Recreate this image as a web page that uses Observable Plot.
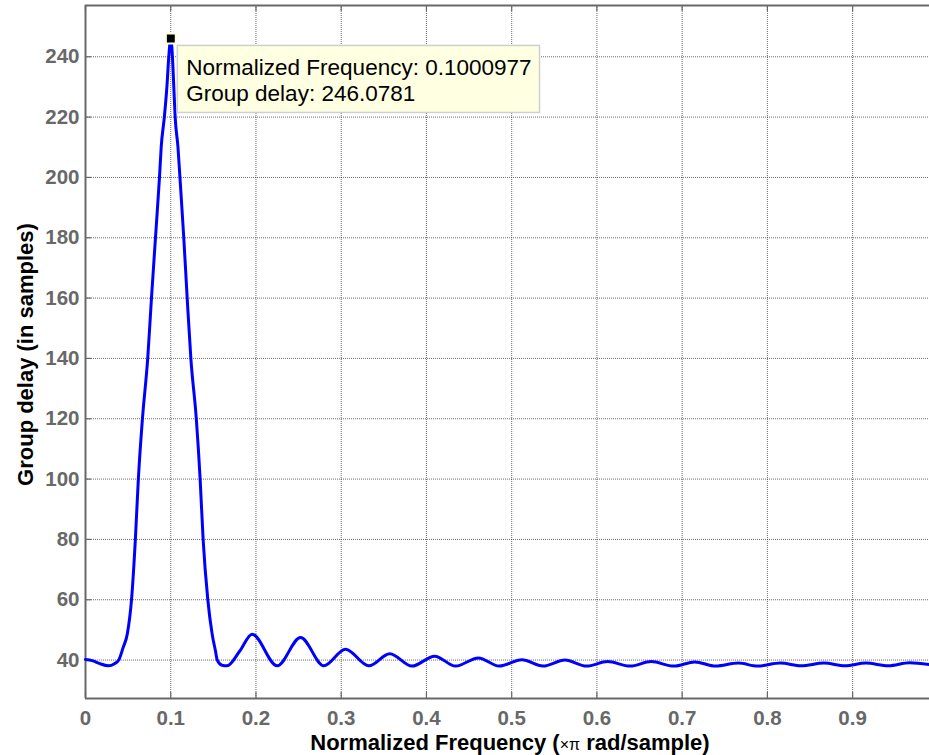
<!DOCTYPE html>
<html>
<head>
<meta charset="utf-8">
<script src="https://cdn.jsdelivr.net/npm/d3@7"></script>
<script src="https://cdn.jsdelivr.net/npm/@observablehq/plot@0.6"></script>
<style>
  html, body { margin: 0; padding: 0; background: #fff; }
  #chart svg { display: block; }
</style>
</head>
<body>
<div id="chart"></div>
<script>
// Normalized frequency (×π rad/sample)
const freq = [
  0.000, 0.008, 0.016, 0.027, 0.034, 0.039, 0.0442, 0.049, 0.054, 0.0585,
  0.0620, 0.0668, 0.0730, 0.0774, 0.0821, 0.0868, 0.0888, 0.0925, 0.0955, 0.0977,
  0.1001, 0.1020, 0.1036, 0.1052, 0.1085, 0.1108, 0.1153, 0.1193, 0.1236, 0.1300,
  0.1345, 0.1380, 0.1435, 0.1486, 0.1525, 0.1546, 0.1600, 0.1660, 0.1810, 0.1955,
  0.2249, 0.2523, 0.2796, 0.3050, 0.3324, 0.3570, 0.3830, 0.4096, 0.4342, 0.4609,
  0.4854, 0.5120, 0.5367, 0.5625, 0.5878, 0.6125, 0.6390, 0.6636, 0.6903, 0.7148,
  0.7394, 0.7660, 0.7886, 0.8152, 0.8397, 0.8664, 0.8910, 0.9155, 0.9421, 0.9668,
  0.9900
];
// Group delay (in samples)
const delay = [
  40.2, 39.8, 38.9, 38.1, 38.8, 40.0, 44.2, 48.6, 60, 80,
  100, 120, 140, 160, 180, 200, 210, 220, 230, 240,
  246.08, 240, 230, 220, 210, 200, 180, 160, 140, 120,
  100, 80, 60, 48.6, 43, 40, 38.3, 38.1, 43, 48.6,
  38.1, 47.5, 38.1, 43.6, 38.1, 42.1, 38.0, 41.3, 38.0, 40.7,
  38.0, 40.1, 38.0, 40.0, 38.0, 39.5, 38.0, 39.5, 38.0, 39.4,
  38.0, 39.0, 38.0, 39.0, 38.1, 39.0, 38.1, 39.0, 38.1, 39.1,
  38.5
];
const xTicks = [0, 0.1, 0.2, 0.3, 0.4, 0.5, 0.6, 0.7, 0.8, 0.9];
const yTicks = [40, 60, 80, 100, 120, 140, 160, 180, 200, 220, 240];
const xDomain = [0, 0.9902];
const yDomain = [27.26, 257];
const xLabel = "Normalized Frequency (";
const xLabelSym = "×π";
const xLabelEnd = " rad/sample)";
const yLabel = "Group delay (in samples)";
const tipFreq = [0.1000977];
const tipDelay = [246.0781];
const tipLines = ["Normalized Frequency: 0.1000977", "Group delay: 246.0781"];

const data = freq.map((f, i) => ({f, d: delay[i]}));
const tipData = tipFreq.map((f, i) => ({f, d: tipDelay[i]}));

const W = 929, H = 755, mL = 85, mR = 0, mT = 5, mB = 57;
const innerH = H - mT - mB;
const axisGray = "#686868";
const font = "'Liberation Sans', Arial, Helvetica, sans-serif";
const gridStyle = {stroke: "#3a3a3a", strokeOpacity: 0.75, strokeWidth: 1, strokeDasharray: "1,1"};

const chart = Plot.plot({
  width: W, height: H,
  marginLeft: mL, marginRight: mR, marginTop: mT, marginBottom: mB,
  x: {domain: xDomain},
  y: {domain: yDomain},
  style: {fontFamily: font, background: "#fff", overflow: "visible"},
  marks: [
    Plot.gridX(xTicks, gridStyle),
    Plot.gridY(yTicks, gridStyle),
    // inward tick marks
    Plot.tickX(xTicks, {x: d => d, stroke: axisGray, strokeWidth: 1.2, insetTop: innerH - 6}),
    Plot.tickX(xTicks, {x: d => d, stroke: axisGray, strokeWidth: 1.2, insetBottom: innerH - 6}),
    Plot.tickY(yTicks, {y: d => d, stroke: axisGray, strokeWidth: 1.2, insetRight: (W - mL - mR) - 6}),
    // axes box
    Plot.ruleX([xDomain[0]], {stroke: axisGray, strokeWidth: 2}),
    Plot.ruleY([yDomain[0]], {stroke: axisGray, strokeWidth: 2}),
    Plot.ruleY([yDomain[1]], {stroke: axisGray, strokeWidth: 2}),
    Plot.axisX(xTicks, {tickSize: 0, tickPadding: 12, fontSize: 20.5, fontWeight: "bold", color: axisGray, label: null, tickFormat: d => String(d)}),
    Plot.axisY(yTicks, {tickSize: 0, tickPadding: 6, fontSize: 20.5, fontWeight: "bold", color: axisGray, label: null}),
    Plot.line(data, {x: "f", y: "d", stroke: "#0000ff", strokeWidth: 3, curve: "monotone-x"}),
    Plot.dot(tipData, {x: "f", y: "d", symbol: "square", r: 5.6, fill: "#000", stroke: "#ffffe1", strokeWidth: 2})
  ]
});

document.getElementById("chart").appendChild(chart);

const svg = d3.select(chart);
const sx = chart.scale("x"), sy = chart.scale("y");
const px = sx.apply(tipFreq[0]), py = sy.apply(tipDelay[0]);

// Data tip box
const tipG = svg.append("g");
const rect = tipG.append("rect");
const tipText = tipG.append("g")
  .attr("font-family", font)
  .attr("font-size", 22.5)
  .attr("text-anchor", "start")
  .attr("fill", "#000");
tipLines.forEach((t, i) => {
  tipText.append("text").attr("x", px + 16).attr("y", py + 37 + i * 26).attr("text-anchor", "start").text(t);
});
const bb = tipText.node().getBBox();
rect.attr("x", px + 7).attr("y", py + 7.5)
  .attr("width", bb.x + bb.width + 8 - (px + 7))
  .attr("height", 67)
  .attr("fill", "#ffffe1")
  .attr("stroke", "#cfcfcf")
  .attr("stroke-width", 1.5);

// Axis labels
const cx = (sx.range[0] + sx.range[1]) / 2;
const xl = svg.append("text")
  .attr("x", cx + 3).attr("y", 750)
  .attr("text-anchor", "middle")
  .attr("font-family", font)
  .attr("font-size", 22).attr("font-weight", "bold").attr("fill", "#000");
xl.append("tspan").text(xLabel);
xl.append("tspan").attr("font-size", 16).attr("font-weight", "normal").text(xLabelSym);
xl.append("tspan").text(xLabelEnd);

const cy = (sy.range[0] + sy.range[1]) / 2;
svg.append("text")
  .attr("transform", `translate(33,${cy + 3}) rotate(-90)`)
  .attr("text-anchor", "middle")
  .attr("font-family", font)
  .attr("font-size", 22).attr("font-weight", "bold").attr("fill", "#000")
  .text(yLabel);
</script>
</body>
</html>
